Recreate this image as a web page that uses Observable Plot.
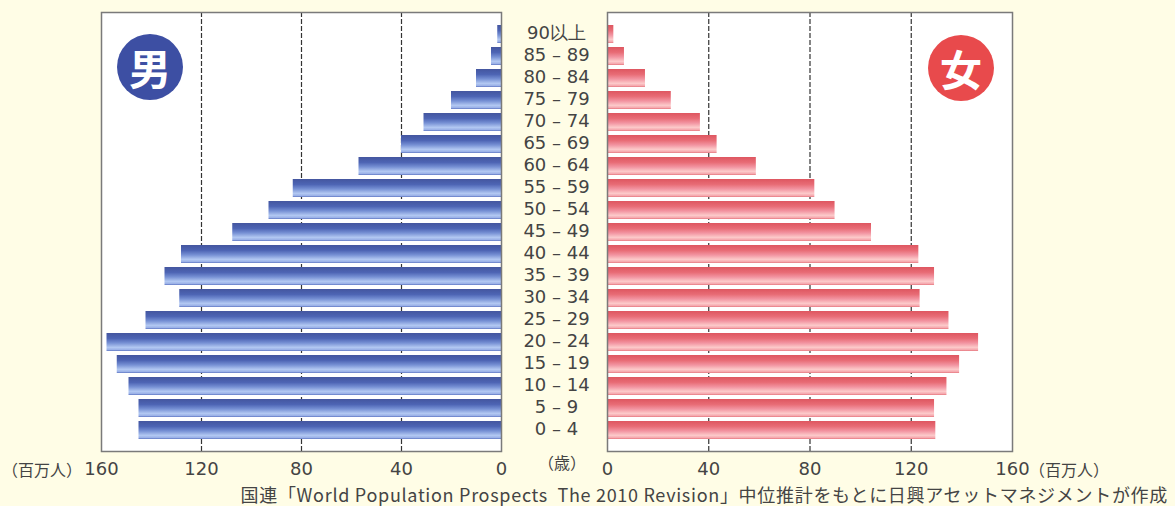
<!DOCTYPE html>
<html>
<head>
<meta charset="utf-8">
<script src="https://cdn.jsdelivr.net/npm/d3@7"></script>
<script src="https://cdn.jsdelivr.net/npm/@observablehq/plot@0.6"></script>
<style>
  html, body { margin: 0; padding: 0; background: #fffde6; }
  #wrap { position: relative; width: 1175px; height: 506px; background: #fffde6; overflow: hidden;
          font-family: "DejaVu Sans", sans-serif; color: #444; }
  #wrap svg { position: absolute; top: 0; overflow: visible; }
  .badge { position: absolute; width: 66px; height: 66px; border-radius: 50%; color: #fff;
           font-family: "Noto Sans CJK JP", sans-serif; font-weight: 700; font-size: 42px;
           line-height: 66px; text-align: center; }
  .unit { position: absolute; font-family: "Noto Sans CJK JP", sans-serif; font-size: 16px; line-height: 1; color: #444; }
  #caption { position: absolute; right: 7px; top: 485px; font-family: "Noto Sans CJK JP", sans-serif;
             font-size: 18px; line-height: 18px; letter-spacing: 0.7px; color: #444; white-space: pre; }
</style>
</head>
<body>
<div id="wrap">
  <div class="badge" style="left:117px; top:34px; background:#3d4fa3;">男</div>
  <div class="badge" style="left:928px; top:35px; background:#e84a4c;">女</div>
  <div class="unit" style="right:1093px; top:461px;">（百万人）</div>
  <div class="unit" style="left:1029px; top:461px;">（百万人）</div>
  <div class="unit" style="left:538px; top:454px;">（歳）</div>
  <div id="caption">国連「World Population Prospects  The 2010 Revision」中位推計をもとに日興アセットマネジメントが作成</div>
</div>
<script>
const ages = ["0 – 4","5 – 9","10 – 14","15 – 19","20 – 24","25 – 29","30 – 34","35 – 39","40 – 44","45 – 49","50 – 54","55 – 59","60 – 64","65 – 69","70 – 74","75 – 79","80 – 84","85 – 89","90以上"];
const male   = [145, 145, 149, 153.7, 157.8, 142.2, 128.7, 134.6, 128, 107.5, 93, 83.3, 57, 40, 31, 20, 10, 4, 1.5];
const female = [129.7, 129.2, 134.1, 139.1, 146.6, 134.9, 123.5, 129.2, 123, 104.3, 89.9, 81.9, 58.8, 43.3, 36.7, 25.2, 15, 6.7, 2.5];
const xTicks = [0, 40, 80, 120, 160];
const gridTicks = [40, 80, 120];

const data = ages.map((a, i) => ({age: a, male: male[i], female: female[i]}));
const yDomain = ages.slice().reverse();

const common = {
  height: 506,
  marginTop: 12,
  marginBottom: 55,
  style: {background: "transparent", fontSize: "18px", fontFamily: "DejaVu Sans, sans-serif", color: "#444"}
};

const left = Plot.plot({
  ...common,
  width: 520,
  marginLeft: 101,
  marginRight: 19,
  x: {domain: [160, 0], ticks: xTicks, tickSize: 0, tickPadding: 11, label: null},
  y: {domain: yDomain, padding: 0.2, axis: null},
  marks: [
    Plot.frame({fill: "white"}),
    Plot.ruleX(gridTicks, {stroke: "#333", strokeWidth: 1.2, strokeDasharray: "5,2"}),
    Plot.barX(data, {x: "male", y: "age", fill: "url(#gradM)"}),
    Plot.frame({stroke: "#7a7a7a", strokeWidth: 1.5})
  ]
});

const right = Plot.plot({
  ...common,
  width: 655,
  marginLeft: 87,
  marginRight: 163,
  x: {domain: [0, 160], ticks: xTicks, tickSize: 0, tickPadding: 11, label: null},
  y: {domain: yDomain, padding: 0.2, axis: null},
  marks: [
    Plot.frame({fill: "white"}),
    Plot.ruleX(gridTicks, {stroke: "#333", strokeWidth: 1.2, strokeDasharray: "5,2"}),
    Plot.barX(data, {x: "female", y: "age", fill: "url(#gradF)"}),
    Plot.frame({stroke: "#7a7a7a", strokeWidth: 1.5}),
    Plot.text(data, {y: "age", text: "age", frameAnchor: "left", dx: -51, dy: -1, textAnchor: "middle", fill: "#444", fontSize: 18})
  ]
});

function addGradient(svgNode, id, stops) {
  const svg = d3.select(svgNode);
  const defs = svg.insert("defs", ":first-child");
  const g = defs.append("linearGradient").attr("id", id)
    .attr("x1", 0).attr("y1", 0).attr("x2", 0).attr("y2", 1);
  stops.forEach(([o, c]) => g.append("stop").attr("offset", o).attr("stop-color", c));
}
addGradient(left, "gradM", [[0, "#44569f"], [0.3, "#4d64b4"], [0.55, "#7690d4"], [0.8, "#b2c8f2"], [0.92, "#9cb2e8"], [1, "#5e76c2"]]);
addGradient(right, "gradF", [[0, "#de5660"], [0.3, "#e86c76"], [0.55, "#f293a0"], [0.8, "#fccaca"], [0.92, "#f6aab0"], [1, "#e67880"]]);

left.style.left = "0px";
right.style.left = "520px";
const wrap = document.getElementById("wrap");
wrap.insertBefore(right, wrap.firstChild);
wrap.insertBefore(left, wrap.firstChild);
</script>
</body>
</html>
